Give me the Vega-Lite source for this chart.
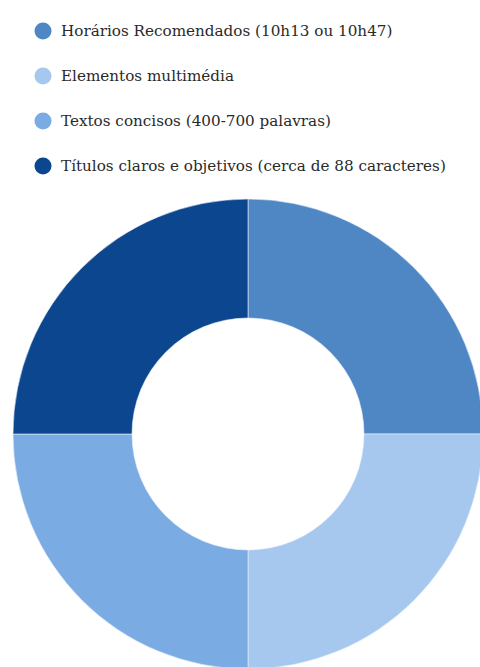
{
  "$schema": "https://vega.github.io/schema/vega-lite/v6.json",
  "width": 496,
  "height": 868,
  "autosize": {"type": "none"},
  "padding": 0,
  "background": "white",
  "config": {"legend": {"labelFont": "DejaVu Serif"}},
  "data": {
    "values": [
      {"categoria": "Horários Recomendados (10h13 ou 10h47)", "valor": 25, "ordem": 1},
      {"categoria": "Elementos multimédia", "valor": 25, "ordem": 2},
      {"categoria": "Textos concisos (400-700 palavras)", "valor": 25, "ordem": 3},
      {"categoria": "Títulos claros e objetivos (cerca de 88 caracteres)", "valor": 25, "ordem": 4}
    ]
  },
  "mark": {"type": "arc", "innerRadius": 116, "outerRadius": 235, "stroke": "#e8f0fa", "strokeWidth": 0.6},
  "encoding": {
    "theta": {"field": "valor", "type": "quantitative", "stack": true},
    "order": {"field": "ordem", "type": "quantitative"},
    "color": {
      "field": "categoria",
      "type": "nominal",
      "sort": ["Horários Recomendados (10h13 ou 10h47)", "Elementos multimédia", "Textos concisos (400-700 palavras)", "Títulos claros e objetivos (cerca de 88 caracteres)"],
      "scale": {
        "domain": ["Horários Recomendados (10h13 ou 10h47)", "Elementos multimédia", "Textos concisos (400-700 palavras)", "Títulos claros e objetivos (cerca de 88 caracteres)"],
        "range": ["#4f86c4", "#a7c8ee", "#7babe3", "#0c468e"]
      },
      "legend": {
        "title": null,
        "orient": "none",
        "legendX": 34,
        "legendY": 22,
        "symbolType": "circle",
        "symbolSize": 290,
        "symbolStrokeWidth": 0,
        "labelFontSize": 15.2,
        "labelColor": "#2a2a2a",
        "labelLimit": 480,
        "labelOffset": 9,
        "rowPadding": 27,
        "padding": 0
      }
    }
  }
}
